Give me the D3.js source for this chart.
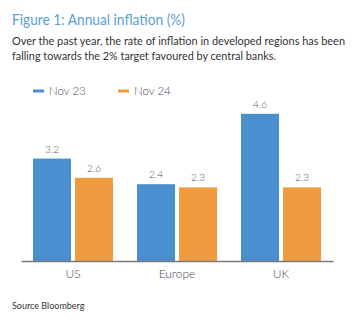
<!DOCTYPE html>
<html>
<head>
<meta charset="utf-8">
<script src="https://cdn.jsdelivr.net/npm/d3@7"></script>
<style>
  html, body { margin: 0; padding: 0; background: #fff; }
  svg { display: block; font-family: Lato, "Open Sans", sans-serif; }
</style>
</head>
<body>
<svg id="chart" width="362" height="324"></svg>
<script>
// Annual inflation by region, Nov 23 vs Nov 24
const categories = ["US", "Europe", "UK"];
const seriesNames = ["Nov 23", "Nov 24"];
const nov23 = [3.2, 2.4, 4.6];
const nov24 = [2.6, 2.3, 2.3];
const seriesColors = ["#4a8fcf", "#ed9b3e"];

const svg = d3.select("#chart");

// Heading block
svg.append("text")
  .attr("x", 12).attr("y", 25)
  .attr("font-size", 15.5)
  .attr("fill", "#5a9fd2")
  .attr("textLength", 173).attr("lengthAdjust", "spacingAndGlyphs")
  .text("Figure 1: Annual inflation (%)");

const subLines = [
  "Over the past year, the rate of inflation in developed regions has been",
  "falling towards the 2% target favoured by central banks."
];
const subWidths = [333, 264];
subLines.forEach((t, i) => {
  svg.append("text")
    .attr("x", 12).attr("y", 45 + i * 15)
    .attr("font-size", 11.5)
    .attr("fill", "#333")
    .attr("textLength", subWidths[i]).attr("lengthAdjust", "spacingAndGlyphs")
    .text(t);
});

// Scales
const x0 = d3.scaleBand()
  .domain(categories)
  .range([21, 333])
  .paddingInner(24 / 104)
  .paddingOuter(12 / 104);

const x1 = d3.scaleBand()
  .domain(seriesNames)
  .range([0, x0.bandwidth()])
  .paddingInner(4 / 42);

const y = d3.scaleLinear().domain([0, 5]).range([261, 101]);

const rows = categories.map((c, i) => ({
  category: c,
  values: [
    { key: seriesNames[0], value: nov23[i] },
    { key: seriesNames[1], value: nov24[i] }
  ]
}));

const color = d3.scaleOrdinal().domain(seriesNames).range(seriesColors);

// Legend
const legendX = [33, 118];
seriesNames.forEach((s, i) => {
  const g = svg.append("g").attr("transform", `translate(${legendX[i]},91)`);
  g.append("rect").attr("x", 0).attr("y", -1.5).attr("width", 11).attr("height", 3)
    .attr("fill", color(s));
  g.append("text").attr("x", 16).attr("y", 4)
    .attr("font-size", 11.5).attr("font-weight", 300).attr("fill", "#4a4a5a")
    .text(s);
});

// Bars and value labels
const groups = svg.append("g").selectAll("g")
  .data(rows).join("g")
  .attr("transform", d => `translate(${x0(d.category)},0)`);

groups.selectAll("rect")
  .data(d => d.values).join("rect")
  .attr("x", d => x1(d.key))
  .attr("y", d => y(d.value))
  .attr("width", x1.bandwidth())
  .attr("height", d => y(0) - y(d.value))
  .attr("fill", d => color(d.key));

groups.selectAll("text.val")
  .data(d => d.values).join("text")
  .attr("class", "val")
  .attr("x", d => x1(d.key) + x1.bandwidth() / 2)
  .attr("y", d => y(d.value) - 6)
  .attr("text-anchor", "middle")
  .attr("font-size", 10).attr("font-weight", 300)
  .attr("fill", "#555")
  .text(d => d3.format(".1f")(d.value));

// Category axis
const xAxis = svg.append("g")
  .attr("transform", `translate(0,${y(0)})`)
  .call(d3.axisBottom(x0).tickSize(0).tickPadding(8));
xAxis.select(".domain").attr("stroke", "#7a7a7a").attr("stroke-width", 1.5);
xAxis.selectAll("text")
  .attr("font-family", "Lato, 'Open Sans', sans-serif")
  .attr("font-size", 12).attr("font-weight", 300).attr("fill", "#4a4a5a");

// Source note
svg.append("text")
  .attr("x", 12).attr("y", 309)
  .attr("font-size", 9).attr("fill", "#333")
  .text("Source Bloomberg");
</script>
</body>
</html>
